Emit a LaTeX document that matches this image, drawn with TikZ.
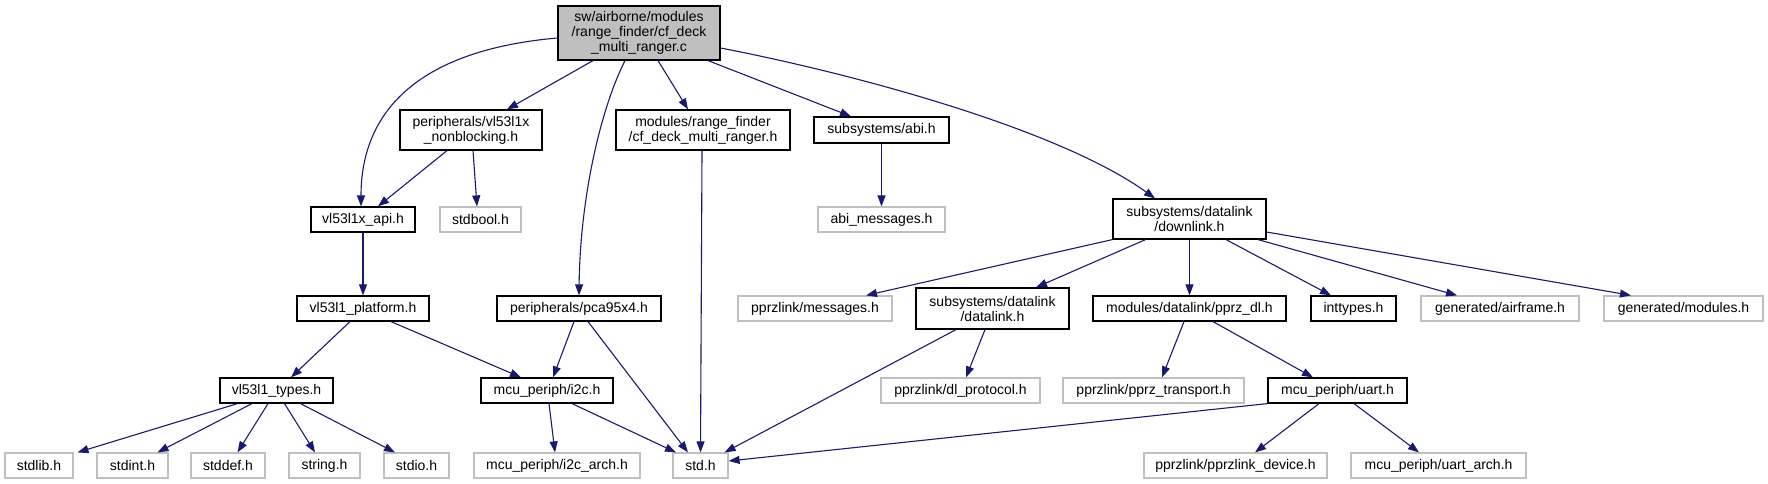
\documentclass[tikz,border=0pt]{standalone}
\usepackage{fontspec}
\setmainfont{Liberation Sans}
\usetikzlibrary{arrows.meta}
\definecolor{edgecol}{HTML}{191970}
\definecolor{graybd}{HTML}{BFBFBF}
\tikzset{
  box/.style={draw=black, line width=1.2pt, inner sep=0pt, align=center, font=\fontsize{14}{15}\selectfont},
  gbox/.style={box, draw=graybd},
  dep/.style={draw=edgecol, line width=1.1pt, -{Triangle[length=11pt,width=8pt]}},
}
\begin{document}
\begin{tikzpicture}[x=1pt,y=-1pt]
\useasboundingbox (0,0) rectangle (1768,484);
% row 0
\node[box, fill=graybd, minimum width=162pt, minimum height=54pt] (main) at (639,33) {sw/airborne/modules\\/range\_finder/cf\_deck\\\_multi\_ranger.c};
% row 1
\node[box, minimum width=142pt, minimum height=40pt] (nb) at (471,130) {peripherals/vl53l1x\\\_nonblocking.h};
\node[box, minimum width=174pt, minimum height=40pt] (cfh) at (703,130) {modules/range\_finder\\/cf\_deck\_multi\_ranger.h};
\node[box, minimum width=135pt, minimum height=26pt] (abi) at (881.5,130) {subsystems/abi.h};
% row 2
\node[box, minimum width=104pt, minimum height=25pt] (api) at (363,219.5) {vl53l1x\_api.h};
\node[gbox, minimum width=81pt, minimum height=25pt] (stdbool) at (480.5,219.5) {stdbool.h};
\node[gbox, minimum width=127pt, minimum height=25pt] (abimsg) at (881.5,219.5) {abi\_messages.h};
\node[box, minimum width=153pt, minimum height=40pt] (downlink) at (1189.5,219) {subsystems/datalink\\/downlink.h};
% row 3
\node[box, minimum width=132pt, minimum height=25pt] (platform) at (363,308.5) {vl53l1\_platform.h};
\node[box, minimum width=164pt, minimum height=25pt] (pca) at (579,308.5) {peripherals/pca95x4.h};
\node[gbox, minimum width=154pt, minimum height=25pt] (msgs) at (815,308.5) {pprzlink/messages.h};
\node[box, minimum width=153pt, minimum height=41pt] (datalink) at (992.5,308.5) {subsystems/datalink\\/datalink.h};
\node[box, minimum width=193pt, minimum height=25pt] (pprzdl) at (1189.5,308.5) {modules/datalink/pprz\_dl.h};
\node[box, minimum width=85pt, minimum height=25pt] (inttypes) at (1353.5,308.5) {inttypes.h};
\node[gbox, minimum width=158pt, minimum height=25pt] (airframe) at (1500,308.5) {generated/airframe.h};
\node[gbox, minimum width=159pt, minimum height=25pt] (genmod) at (1683.5,308.5) {generated/modules.h};
% row 4
\node[box, minimum width=113pt, minimum height=25pt] (types) at (276.5,390.5) {vl53l1\_types.h};
\node[box, minimum width=132pt, minimum height=25pt] (i2c) at (547,390.5) {mcu\_periph/i2c.h};
\node[gbox, minimum width=159pt, minimum height=25pt] (dlproto) at (960.5,390.5) {pprzlink/dl\_protocol.h};
\node[gbox, minimum width=181pt, minimum height=25pt] (transport) at (1153.5,390.5) {pprzlink/pprz\_transport.h};
\node[box, minimum width=139pt, minimum height=25pt] (uart) at (1337.5,390.5) {mcu\_periph/uart.h};
% row 5
\node[gbox, minimum width=68pt, minimum height=25pt] (stdlib) at (39,465.5) {stdlib.h};
\node[gbox, minimum width=71pt, minimum height=25pt] (stdint) at (132.5,465.5) {stdint.h};
\node[gbox, minimum width=74pt, minimum height=25pt] (stddef) at (228,465.5) {stddef.h};
\node[gbox, minimum width=71pt, minimum height=25pt] (string) at (324.5,465.5) {string.h};
\node[gbox, minimum width=65pt, minimum height=25pt] (stdio) at (416.5,465.5) {stdio.h};
\node[gbox, minimum width=166pt, minimum height=25pt] (i2carch) at (557,465.5) {mcu\_periph/i2c\_arch.h};
\node[gbox, minimum width=55pt, minimum height=25pt] (stdh) at (700.5,465.5) {std.h};
\node[gbox, minimum width=183pt, minimum height=25pt] (device) at (1235.5,465.5) {pprzlink/pprzlink\_device.h};
\node[gbox, minimum width=175pt, minimum height=25pt] (uartarch) at (1438.5,465.5) {mcu\_periph/uart\_arch.h};

% edges from main
\draw[dep] ([yshift=-5pt]main.west) .. controls (420,50) and (361,110) .. ([xshift=-2pt]api.north);
\draw[dep] ([xshift=-46pt]main.south) -- ([xshift=36pt]nb.north);
\draw[dep] ([xshift=-14pt]main.south) .. controls (600,110) and (580,200) .. (pca.north);
\draw[dep] ([xshift=19pt]main.south) -- ([xshift=-15pt]cfh.north);
\draw[dep] ([xshift=69pt]main.south) -- ([xshift=-30.5pt]abi.north);
\draw[dep] ([yshift=-15pt]main.east) .. controls (860,75) and (1060,130) .. ([xshift=-34.5pt]downlink.north);
% row 1
\draw[dep] ([xshift=-24pt]nb.south) -- ([xshift=15pt]api.north);
\draw[dep] ([xshift=2pt]nb.south) -- ([xshift=-3.5pt]stdbool.north);
\draw[dep] ([xshift=-1pt]cfh.south) -- (stdh.north);
\draw[dep] (abi.south) -- (abimsg.north);
% row 2
\draw[dep] (api.south) -- (platform.north);
\draw[dep] (downlink.south west) -- ([xshift=51pt]msgs.north);
\draw[dep] ([xshift=-44pt]downlink.south) -- ([xshift=43.5pt]datalink.north);
\draw[dep] (downlink.south) -- (pprzdl.north);
\draw[dep] ([xshift=36.5pt]downlink.south) -- ([xshift=-22.5pt]inttypes.north);
\draw[dep] ([xshift=68.5pt]downlink.south) -- ([xshift=-43pt]airframe.north);
\draw[dep] ([yshift=-13pt]downlink.east) -- ([xshift=-52.5pt]genmod.north);
% row 3
\draw[dep] ([xshift=-13pt]platform.south) -- ([xshift=14.5pt]types.north);
\draw[dep] ([xshift=28pt]platform.south) -- ([xshift=-26pt]i2c.north);
\draw[dep] ([xshift=-5pt]pca.south) -- ([xshift=6pt]i2c.north);
\draw[dep] ([xshift=9pt]pca.south) -- ([xshift=-12.5pt]stdh.north);
\draw[dep] ([xshift=-36.5pt]datalink.south) -- ([xshift=-4pt]stdh.north east);
\draw[dep] ([xshift=-7.5pt]datalink.south) -- ([xshift=5.5pt]dlproto.north);
\draw[dep] ([xshift=-5.5pt]pprzdl.south) -- ([xshift=8.5pt]transport.north);
\draw[dep] ([xshift=23.5pt]pprzdl.south) -- ([xshift=-24.5pt]uart.north);
% row 4
\draw[dep] ([xshift=-39pt]types.south) -- ([xshift=38.5pt]stdlib.north);
\draw[dep] ([xshift=-24.5pt]types.south) -- ([xshift=25pt]stdint.north);
\draw[dep] ([xshift=-8.5pt]types.south) -- ([xshift=9.5pt]stddef.north);
\draw[dep] ([xshift=8pt]types.south) -- ([xshift=-9.5pt]string.north);
\draw[dep] ([xshift=24pt]types.south) -- ([xshift=-21.5pt]stdio.north);
\draw[dep] ([xshift=2pt]i2c.south) -- ([xshift=-2pt]i2carch.north);
\draw[dep] ([xshift=25pt]i2c.south) -- ([xshift=-24.5pt]stdh.north);
\draw[dep] (uart.south west) -- ([yshift=4.5pt]stdh.east);
\draw[dep] ([xshift=-18.5pt]uart.south) -- ([xshift=19.5pt]device.north);
\draw[dep] ([xshift=16.5pt]uart.south) -- ([xshift=-19.5pt]uartarch.north);
\end{tikzpicture}
\end{document}
